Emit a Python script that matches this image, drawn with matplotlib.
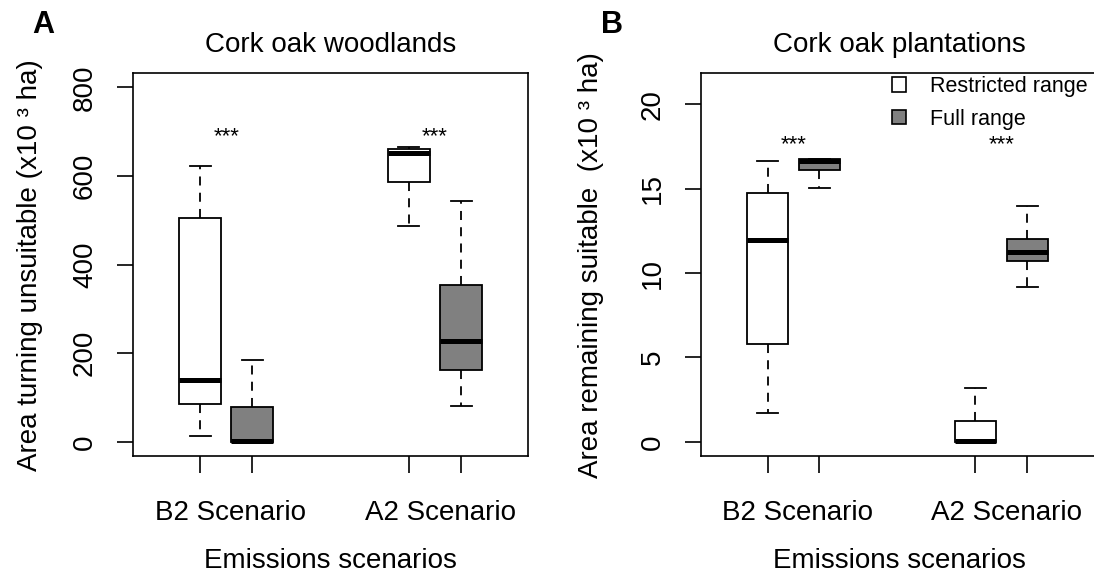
import numpy as np
import matplotlib
matplotlib.use("Agg")
import matplotlib.pyplot as plt
from matplotlib.patches import Patch

plt.rcParams['font.family'] = ['Liberation Sans', 'DejaVu Sans']

# five-number summaries: (whislo, q1, median, q3, whishi)
scenarios = ["B2 Scenario", "A2 Scenario"]
woodland_restricted = [(12.8, 84.8, 139.6, 505.8, 623.6), (486.5, 585.5, 651.0, 662.0, 665.0)]
woodland_full = [(0.0, 0.0, 2.0, 78.8, 184.0), (80.0, 162.0, 227.0, 353.5, 543.0)]
plantation_restricted = [(1.73, 5.82, 11.96, 14.77, 16.64), (0.0, 0.0, 0.05, 1.26, 3.2)]
plantation_full = [(15.07, 16.09, 16.62, 16.78, 16.78), (9.2, 10.7, 11.25, 12.0, 13.96)]

woodland_stars = 690
plantation_stars = 17.6

series_names = ["Restricted range", "Full range"]
fill_colors = ["white", "#808080"]


def make_stats(five):
    lo, q1, med, q3, hi = five
    return dict(whislo=lo, q1=q1, med=med, q3=q3, whishi=hi, fliers=[])


def draw_panel(ax, restricted, full, title, yticks, ylim, star_y, xlim_right):
    for pos_offset, groups, color in [(0, restricted, fill_colors[0]), (1, full, fill_colors[1])]:
        stats = [make_stats(g) for g in groups]
        positions = [1 + pos_offset, 5 + pos_offset]
        ax.bxp(stats, positions=positions, widths=0.8, capwidths=0.4,
               patch_artist=True, showfliers=False,
               boxprops=dict(facecolor=color, edgecolor="black", linewidth=1.3),
               medianprops=dict(color="black", linewidth=3.6, solid_capstyle="butt"),
               whiskerprops=dict(color="black", linewidth=1.3, linestyle=(0, (5, 4))),
               capprops=dict(color="black", linewidth=1.3))

    ax.set_xlim(-0.28, xlim_right)
    ax.set_ylim(*ylim)
    ax.set_xticks([1, 2, 5, 6])
    ax.set_xticklabels([])
    ax.set_xticks([1.58, 5.6], scenarios, minor=True)
    ax.tick_params(axis="x", which="major", length=12, width=1.2, direction="out")
    ax.tick_params(axis="x", which="minor", length=0, pad=32, labelsize=20)
    ax.set_yticks(yticks)
    ax.set_yticklabels([str(t) for t in yticks], rotation=90, va="center", fontsize=20)
    ax.tick_params(axis="y", length=11.5, width=1.2, pad=14)
    for sp in ax.spines.values():
        sp.set_linewidth(1.2)

    for x in [1.5, 5.5]:
        ax.text(x, star_y, "***", ha="center", va="center", fontsize=16)

    ax.text(0.5, 1.074, title, transform=ax.transAxes, ha="center", va="center", fontsize=20)
    ax.text(0.5, -0.274, "Emissions scenarios", transform=ax.transAxes,
            ha="center", va="center", fontsize=20)


fig = plt.figure(figsize=(10.94, 5.72), dpi=100)
ax_a = fig.add_axes([133.3 / 1094, 1 - 456 / 572, 394.6 / 1094, 382.7 / 572])
ax_b = fig.add_axes([701 / 1094, 1 - 456 / 572, 396 / 1094, 382.7 / 572])

draw_panel(ax_a, woodland_restricted, woodland_full, "Cork oak woodlands",
           [0, 200, 400, 600, 800], (-32, 832), woodland_stars, 7.28)
draw_panel(ax_b, plantation_restricted, plantation_full, "Cork oak plantations",
           [0, 5, 10, 15, 20], (-0.84, 21.84), plantation_stars, 7.34)

ax_a.text(-0.262, 0.5, "Area turning unsuitable (x10 \u00b3 ha)", transform=ax_a.transAxes,
          rotation=90, ha="center", va="center", fontsize=20)
ax_b.text(-0.278, 0.5, "Area remaining suitable  (x10 \u00b3 ha)", transform=ax_b.transAxes,
          rotation=90, ha="center", va="center", fontsize=20)

fig.text(43 / 1094, 1 - 25 / 572, "A", fontsize=22, fontweight="bold", ha="center", va="center")
fig.text(612 / 1094, 1 - 25 / 572, "B", fontsize=22, fontweight="bold", ha="center", va="center")

handles = [Patch(facecolor=c, edgecolor="black", linewidth=1.2) for c in fill_colors]
ax_b.legend(handles, series_names, loc="upper left", bbox_to_anchor=(892 / 1094, 1 - 76 / 572),
            bbox_transform=fig.transFigure, frameon=False, fontsize=15.5,
            handlelength=0.65, handleheight=0.65, handletextpad=1.1,
            labelspacing=0.55, borderpad=0, borderaxespad=0)

fig.savefig("out.png", dpi=100)
